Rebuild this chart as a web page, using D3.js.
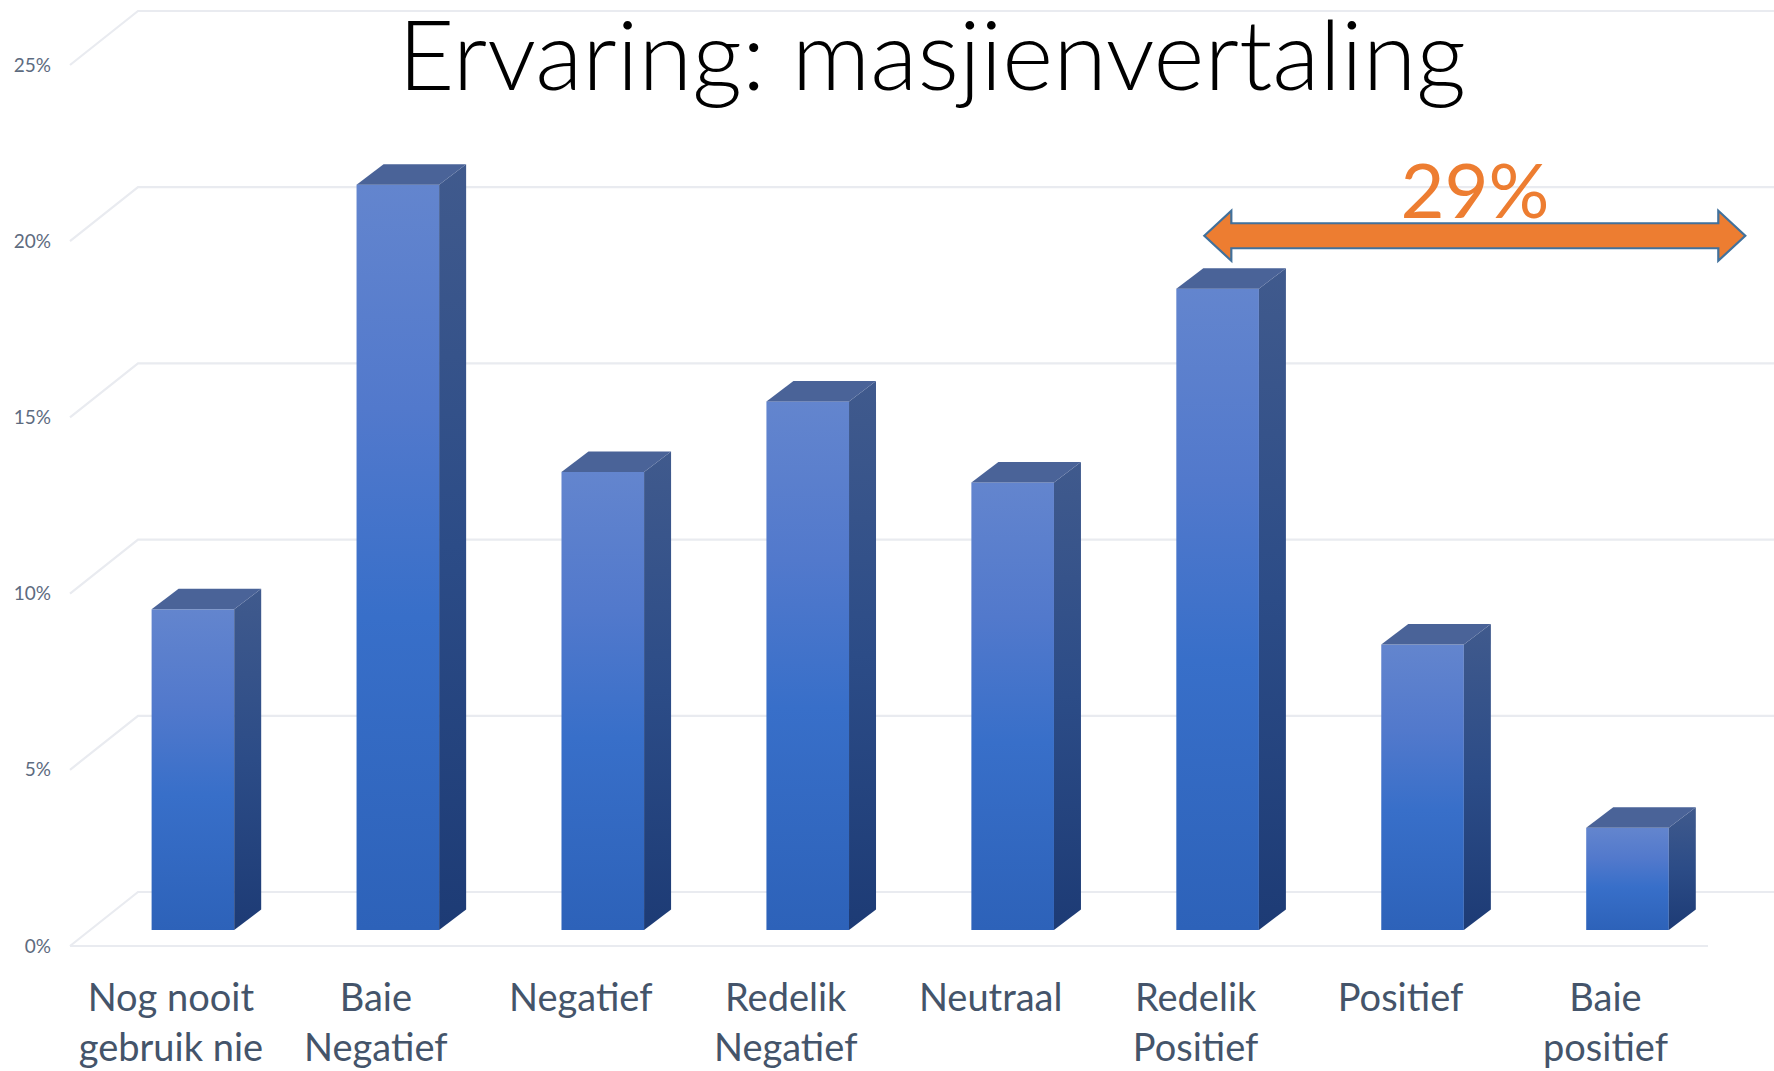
<!DOCTYPE html>
<html>
<head>
<meta charset="utf-8">
<script src="https://cdn.jsdelivr.net/npm/d3@7"></script>
<style>
	html, body { margin: 0; padding: 0; background: #fff; }
	svg { display: block; }
	text { font-family: Lato, "Noto Sans", sans-serif; }
</style>
</head>
<body>
<div id="barChart"></div>
<script>
var categories = ["Nog nooit|gebruik nie", "Baie|Negatief", "Negatief", "Redelik|Negatief", "Neutraal", "Redelik|Positief", "Positief", "Baie|positief"]
var values = [9.1, 21.15, 13.0, 15.0, 12.7, 18.2, 8.1, 2.9]
var yTicks = [0, 5, 10, 15, 20, 25]
var titleText = "Ervaring: masjienvertaling"
var noteText = "29%"

function drawChart() {

	var width = 1774
	var height = 1071

	// 3d look: how far the wall and the bar sides sit behind the bar front
	var depthX = 27, depthY = 20.5
	var frontGap = 16, backGap = 38
	var wallLeft = 138, wallFront = 70, frontEnd = 1708

	var svg = d3.select("#barChart").append("svg")
		.attr("width", width)
		.attr("height", height)

	var x = d3.scaleBand().domain(categories).range([151.6, 1668.8]).paddingInner(0.597).paddingOuter(0)
	var y = d3.scaleLinear().domain([0, 25]).range([930, 49])

	var defs = svg.append("defs")

	function gradient(id, stops) {
		var g = defs.append("linearGradient").attr("id", id)
			.attr("x1", 0).attr("y1", 0).attr("x2", 0).attr("y2", 1)
		stops.forEach(function(s) {
			g.append("stop").attr("offset", s[0]).attr("stop-color", s[1])
		})
	}

	gradient("frontFill", [[0, "#6385ce"], [0.3, "#5279cc"], [0.58, "#386fc9"], [1, "#2d62b9"]])
	gradient("sideFill", [[0, "#405a8d"], [0.5, "#2c4c87"], [1, "#1d3b75"]])

	// grid
	var grid = svg.append("g").attr("class", "grid")

	grid.selectAll("polyline")
		.data(yTicks)
		.enter().append("polyline")
		.attr("points", function(d) {
			return [[wallFront, y(d) + frontGap], [wallLeft, y(d) - backGap], [width, y(d) - backGap]].join(" ")
		})
		.attr("fill", "none")
		.attr("stroke", "#e9ebf0")
		.attr("stroke-width", 2.2)

	grid.append("line")
		.attr("x1", wallFront).attr("x2", frontEnd)
		.attr("y1", y(0) + frontGap).attr("y2", y(0) + frontGap)
		.attr("stroke", "#e9ebf0")
		.attr("stroke-width", 2.2)

	// y axis, labels only
	var yAxis = d3.axisLeft(y).tickValues(yTicks).tickSize(0).tickPadding(0).tickFormat(function(d) { return d + "%" })

	var yG = svg.append("g")
		.attr("class", "y")
		.attr("transform", "translate(51," + frontGap + ")")
		.call(yAxis)

	yG.select(".domain").remove()
	yG.selectAll("text")
		.attr("font-size", 19)
		.attr("fill", "#5d6b80")
		.style("font-family", "Lato, 'Noto Sans', sans-serif")

	// bars
	var bars = svg.selectAll(".bar")
		.data(values)
		.enter().append("g")
		.attr("class", "bar")

	function left(i) { return x(categories[i]) }
	function right(i) { return x(categories[i]) + x.bandwidth() }

	bars.append("rect")
		.attr("x", function(d, i) { return left(i) })
		.attr("y", function(d) { return y(d) })
		.attr("width", x.bandwidth())
		.attr("height", function(d) { return y(0) - y(d) })
		.attr("fill", "url(#frontFill)")

	bars.append("polygon")
		.attr("points", function(d, i) {
			return [[right(i), y(d)], [right(i) + depthX, y(d) - depthY], [right(i) + depthX, y(0) - depthY], [right(i), y(0)]].join(" ")
		})
		.attr("fill", "url(#sideFill)")

	bars.append("polygon")
		.attr("points", function(d, i) {
			return [[left(i), y(d)], [left(i) + depthX, y(d) - depthY], [right(i) + depthX, y(d) - depthY], [right(i), y(d)]].join(" ")
		})
		.attr("fill", "#4a6398")

	// category labels
	var labels = svg.selectAll(".cat")
		.data(categories)
		.enter().append("text")
		.attr("class", "cat")
		.attr("text-anchor", "middle")
		.attr("font-size", 38)
		.attr("fill", "#44546a")
		.attr("transform", function(d) {
			return "translate(" + (x(d) + x.bandwidth() / 2 - 22) + ",1011)"
		})

	labels.selectAll("tspan")
		.data(function(d) { return d.split("|") })
		.enter().append("tspan")
		.attr("x", 0)
		.attr("y", function(d, i) { return i * 50 })
		.text(function(d) { return d })

	// title
	svg.append("text")
		.attr("x", 932)
		.attr("y", 90)
		.attr("text-anchor", "middle")
		.attr("font-size", 97.5)
		.attr("font-weight", 300)
		.attr("fill", "#000")
		.text(titleText)

	// 29% arrow, from the Redelik Positief bar to past the last one
	var arrowL = x(categories[5]) + 28
	var arrowR = right(7) + 76.5
	var arrowY = y(19.7)
	var shaft = 12.5, headH = 25, headW = 27

	svg.append("polygon")
		.attr("points", [
			[arrowL, arrowY], [arrowL + headW, arrowY - headH], [arrowL + headW, arrowY - shaft],
			[arrowR - headW, arrowY - shaft], [arrowR - headW, arrowY - headH], [arrowR, arrowY],
			[arrowR - headW, arrowY + headH], [arrowR - headW, arrowY + shaft], [arrowL + headW, arrowY + shaft],
			[arrowL + headW, arrowY + headH]
		].join(" "))
		.attr("fill", "#ed7d31")
		.attr("stroke", "#41719c")
		.attr("stroke-width", 2.2)

	svg.append("text")
		.attr("x", 1475)
		.attr("y", 218)
		.attr("text-anchor", "middle")
		.attr("font-size", 76)
		.attr("font-weight", 400)
		.attr("fill", "#ed7d31")
		.text(noteText)
}

drawChart()
</script>
</body>
</html>
